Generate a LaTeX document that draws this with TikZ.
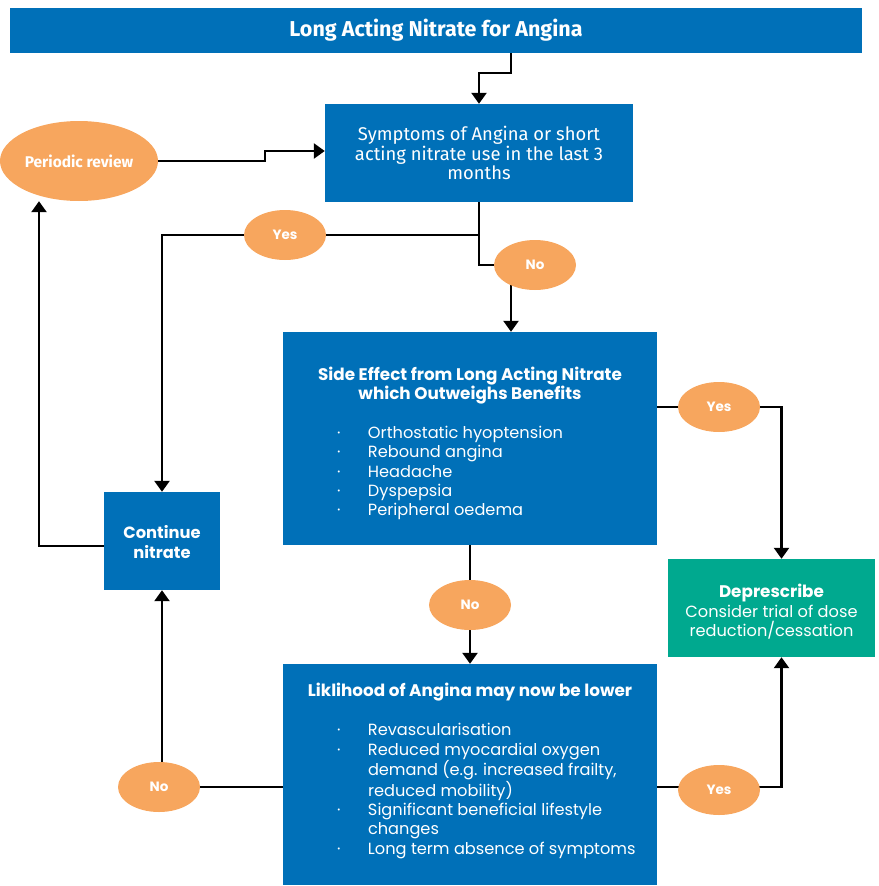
\documentclass[tikz,border=0pt]{standalone}
\usepackage{fontspec}
\setmainfont{Poppins}
\newfontfamily\narrowfont{Fira Sans}
\usetikzlibrary{arrows.meta,positioning,backgrounds,calc,shapes.geometric}
\definecolor{nhsblue}{HTML}{0070B8}
\definecolor{answer}{HTML}{F7A65E}
\definecolor{depgreen}{HTML}{00A98F}
% bullet line and continuation line for the lists
\newcommand{\bul}{\makebox[31pt][l]{·}}
\newcommand{\cnt}{\hspace*{31pt}}
\newcommand{\head}[1]{{\bfseries\fontsize{16.8}{19.3}\selectfont #1}}

\begin{document}
\begin{tikzpicture}[
  x=1pt, y=-1pt,
  font=\fontsize{16.2}{19.3}\selectfont,
  box/.style={fill=nhsblue, text=white, align=center, inner sep=0pt},
  choice/.style={ellipse, fill=answer, text=white, inner sep=0pt,
    font=\fontsize{13.5}{15}\selectfont\bfseries, minimum width=82pt, minimum height=50pt},
  link/.style={line width=2.4pt},
  arrow/.style={link, -{Triangle[width=15pt,length=11pt]}}
]
\useasboundingbox (0,0) rectangle (878,886);

\node[box, minimum width=852pt, minimum height=45pt,
  font=\narrowfont\bfseries\fontsize{21.5}{24}\selectfont] (title) at (436,30.5) {Long Acting Nitrate for Angina};
\node[box, minimum width=308pt, minimum height=98pt,
  font=\narrowfont\fontsize{18.4}{19.5}\selectfont] (symp) at (479,153)
  {Symptoms of Angina or short\\acting nitrate use in the last 3\\months};
\node[ellipse, fill=answer, text=white, inner sep=0pt, minimum width=158pt, minimum height=80pt,
  font=\narrowfont\bfseries\fontsize{15.5}{17}\selectfont] (review) at (79,161) {Periodic review};

\node[box, minimum width=374pt, minimum height=213pt] (side) at (470,438.5) {
  \rule{0pt}{23pt}\head{Side Effect from Long Acting Nitrate}\\
  \head{which Outweighs Benefits}\\[21pt]
  \makebox[266pt][l]{\parbox{300pt}{\raggedright
  \bul Orthostatic hyoptension\\
  \bul Rebound angina\\
  \bul Headache\\
  \bul Dyspepsia\\
  \bul Peripheral oedema}}};

\node[box, minimum width=374pt, minimum height=221pt] (likely) at (470,774.5) {
  \head{Liklihood of Angina may now be lower}\\[21pt]
  \makebox[266pt][l]{\parbox{320pt}{\raggedright
  \bul Revascularisation\\
  \bul Reduced myocardial oxygen\\
  \cnt demand (e.g. increased frailty,\\
  \cnt reduced mobility)\\
  \bul Significant beneficial lifestyle\\
  \cnt changes\\
  \bul Long term absence of symptoms}}\\[6pt]};

\node[box, minimum width=116pt, minimum height=98pt,
  font=\bfseries\fontsize{16.3}{20}\selectfont] (cont) at (162,541) {\rule{0pt}{15pt}Continue\\nitrate};
\node[box, fill=depgreen, minimum width=207pt, minimum height=98pt] (depre) at (771.5,608)
  {\rule{0pt}{21pt}\head{Deprescribe}\\Consider trial of dose\\reduction/cessation};

\node[choice] (yes1) at (285,235) {Yes};
\node[choice] (no1) at (535,265) {No};
\node[choice] (yes2) at (719,407) {Yes};
\node[choice] (no2) at (470,605) {No};
\node[choice] (no3) at (159,787) {No};
\node[choice] (yes3) at (719,790) {Yes};

\begin{scope}[on background layer]
\draw[arrow] ([xshift=75pt]title.south) |- ($(symp.north)+(0,31pt)$) -- (symp.north);
\draw[arrow] (review.east) -- ++(107pt,0) |- ([yshift=2pt]symp.west);
\draw[arrow] (symp.south) |- (yes1.center) -| (cont.north);
\draw[link] (symp.south) |- (no1.center);
\draw[arrow] ([xshift=-24pt]no1.center) -- ([xshift=-24pt]no1.center |- side.north);
\draw[arrow] (side.east |- yes2) -- (yes2) -| ([xshift=10pt]depre.north);
\draw[arrow] (side.south) -- (likely.north);
\draw[arrow] (likely.west |- no3) -| (cont.south);
\draw[arrow] ([yshift=3pt]likely.east |- yes3) -| ([xshift=10pt]depre.south);
\draw[arrow] ([yshift=-5pt]cont.west) -| ([xshift=-40pt]review.south);
\end{scope}
\end{tikzpicture}
\end{document}
